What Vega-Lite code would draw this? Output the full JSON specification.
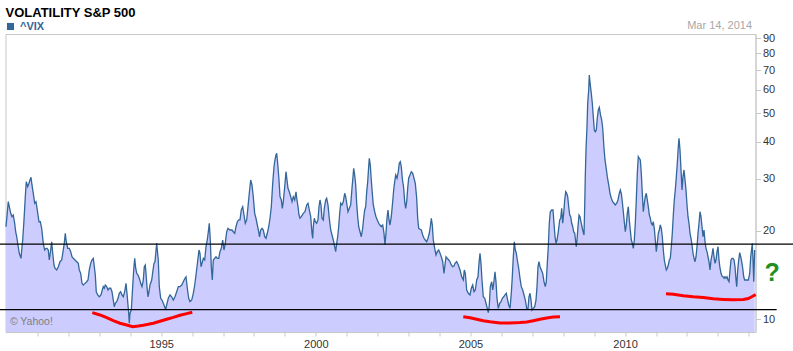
{
"$schema": "https://vega.github.io/schema/vega-lite/v6.json",
"width": 750, "height": 298,
"autosize": {"type": "none"},
"padding": {"left": 5.5, "top": 34, "right": 37.5, "bottom": 19},
"background": "white",
"config": {"font": "Liberation Sans", "view": {"stroke": "#c8c8c8", "strokeWidth": 1}},
"title": {"text": "VOLATILITY S&P 500", "anchor": "start", "frame": "group", "fontSize": 13, "fontWeight": "bold", "color": "#000000", "offset": 0},
"datasets": {
"vix": [
{"t":1989.984,"v":20.63},{"t":1990.058,"v":25.09},{"t":1990.091,"v":24.12},{"t":1990.136,"v":22.91},{"t":1990.178,"v":22.31},{"t":1990.220,"v":22.61},{"t":1990.265,"v":21.19},{"t":1990.297,"v":19.84},{"t":1990.330,"v":19.08},{"t":1990.362,"v":18.13},{"t":1990.414,"v":16.77},{"t":1990.469,"v":16.12},{"t":1990.501,"v":17.65},{"t":1990.524,"v":18.60},{"t":1990.566,"v":21.75},{"t":1990.608,"v":26.08},{"t":1990.640,"v":29.32},{"t":1990.685,"v":28.19},{"t":1990.727,"v":28.96},{"t":1990.760,"v":29.72},{"t":1990.792,"v":30.35},{"t":1990.824,"v":28.58},{"t":1990.866,"v":26.78},{"t":1990.912,"v":24.78},{"t":1990.954,"v":25.08},{"t":1990.996,"v":23.51},
{"t":1991.051,"v":21.45},{"t":1991.093,"v":21.45},{"t":1991.138,"v":20.38},{"t":1991.190,"v":18.13},{"t":1991.235,"v":17.20},{"t":1991.277,"v":17.43},{"t":1991.309,"v":17.43},{"t":1991.351,"v":17.20},{"t":1991.384,"v":15.91},{"t":1991.429,"v":17.20},{"t":1991.461,"v":18.35},{"t":1991.494,"v":16.77},{"t":1991.536,"v":15.30},{"t":1991.568,"v":14.92},{"t":1991.623,"v":14.72},{"t":1991.675,"v":15.10},{"t":1991.730,"v":15.70},{"t":1991.785,"v":15.91},{"t":1991.836,"v":17.20},{"t":1991.869,"v":18.13},{"t":1991.901,"v":19.60},{"t":1991.933,"v":18.35},{"t":1991.979,"v":17.43},
{"t":1992.030,"v":17.43},{"t":1992.076,"v":16.98},{"t":1992.118,"v":16.32},{"t":1992.160,"v":16.12},{"t":1992.215,"v":15.91},{"t":1992.270,"v":15.70},{"t":1992.321,"v":15.50},{"t":1992.354,"v":14.72},{"t":1992.399,"v":14.34},{"t":1992.441,"v":13.26},{"t":1992.483,"v":13.09},{"t":1992.538,"v":13.26},{"t":1992.593,"v":13.43},{"t":1992.635,"v":13.61},{"t":1992.677,"v":14.72},{"t":1992.722,"v":15.50},{"t":1992.764,"v":15.91},{"t":1992.806,"v":16.12},{"t":1992.839,"v":15.10},{"t":1992.871,"v":14.15},{"t":1992.903,"v":12.42},{"t":1992.949,"v":12.11},
{"t":1993.000,"v":11.94},{"t":1993.055,"v":12.11},{"t":1993.097,"v":12.59},{"t":1993.130,"v":12.92},{"t":1993.162,"v":12.76},{"t":1993.194,"v":13.09},{"t":1993.240,"v":12.92},{"t":1993.282,"v":12.59},{"t":1993.324,"v":12.76},{"t":1993.369,"v":12.76},{"t":1993.411,"v":12.42},{"t":1993.453,"v":11.64},{"t":1993.485,"v":11.05},{"t":1993.518,"v":11.35},{"t":1993.563,"v":11.49},{"t":1993.605,"v":11.80},{"t":1993.647,"v":12.27},{"t":1993.692,"v":12.42},{"t":1993.734,"v":12.11},{"t":1993.776,"v":11.94},{"t":1993.821,"v":12.42},{"t":1993.864,"v":13.26},{"t":1993.896,"v":12.27},{"t":1993.928,"v":11.20},{"t":1993.951,"v":10.50},{"t":1993.970,"v":9.71},{"t":1993.993,"v":10.50},
{"t":1994.035,"v":10.77},{"t":1994.080,"v":12.92},{"t":1994.113,"v":14.72},{"t":1994.145,"v":16.12},{"t":1994.177,"v":14.92},{"t":1994.210,"v":14.34},{"t":1994.252,"v":14.15},{"t":1994.294,"v":13.79},{"t":1994.339,"v":13.26},{"t":1994.381,"v":12.92},{"t":1994.423,"v":13.61},{"t":1994.455,"v":15.10},{"t":1994.488,"v":15.30},{"t":1994.510,"v":14.34},{"t":1994.543,"v":12.92},{"t":1994.575,"v":11.94},{"t":1994.607,"v":12.42},{"t":1994.640,"v":13.09},{"t":1994.695,"v":13.61},{"t":1994.737,"v":14.72},{"t":1994.769,"v":15.50},{"t":1994.801,"v":15.70},{"t":1994.856,"v":18.13},{"t":1994.908,"v":15.91},{"t":1994.940,"v":12.92},{"t":1994.985,"v":11.80},
{"t":1995.028,"v":11.64},{"t":1995.070,"v":11.35},{"t":1995.115,"v":11.05},{"t":1995.147,"v":10.77},{"t":1995.179,"v":11.20},{"t":1995.231,"v":11.80},{"t":1995.286,"v":12.11},{"t":1995.341,"v":11.94},{"t":1995.393,"v":11.64},{"t":1995.448,"v":11.94},{"t":1995.503,"v":12.42},{"t":1995.555,"v":12.92},{"t":1995.610,"v":12.92},{"t":1995.665,"v":13.09},{"t":1995.716,"v":13.43},{"t":1995.771,"v":13.79},{"t":1995.804,"v":13.96},{"t":1995.846,"v":12.76},{"t":1995.891,"v":11.80},{"t":1995.933,"v":11.49},{"t":1995.988,"v":11.64},
{"t":1996.040,"v":12.27},{"t":1996.085,"v":13.09},{"t":1996.127,"v":14.15},{"t":1996.159,"v":15.10},{"t":1996.192,"v":16.12},{"t":1996.224,"v":17.20},{"t":1996.256,"v":16.77},{"t":1996.289,"v":15.10},{"t":1996.321,"v":15.50},{"t":1996.363,"v":16.12},{"t":1996.408,"v":15.91},{"t":1996.450,"v":17.65},{"t":1996.492,"v":18.60},{"t":1996.525,"v":19.84},{"t":1996.557,"v":21.19},{"t":1996.589,"v":18.60},{"t":1996.622,"v":15.10},{"t":1996.654,"v":13.61},{"t":1996.686,"v":15.91},{"t":1996.731,"v":16.12},{"t":1996.774,"v":16.32},{"t":1996.816,"v":16.12},{"t":1996.861,"v":16.12},{"t":1996.903,"v":16.98},{"t":1996.945,"v":17.43},{"t":1996.990,"v":18.60},
{"t":1997.032,"v":17.20},{"t":1997.074,"v":18.13},{"t":1997.119,"v":19.84},{"t":1997.161,"v":20.38},{"t":1997.226,"v":20.11},{"t":1997.291,"v":20.11},{"t":1997.333,"v":19.84},{"t":1997.378,"v":19.60},{"t":1997.420,"v":20.63},{"t":1997.462,"v":21.45},{"t":1997.507,"v":21.75},{"t":1997.549,"v":21.75},{"t":1997.591,"v":23.51},{"t":1997.637,"v":24.12},{"t":1997.679,"v":22.61},{"t":1997.721,"v":21.19},{"t":1997.766,"v":21.75},{"t":1997.808,"v":24.12},{"t":1997.850,"v":26.78},{"t":1997.895,"v":29.72},{"t":1997.937,"v":28.58},{"t":1997.979,"v":26.08},
{"t":1998.024,"v":22.91},{"t":1998.066,"v":22.04},{"t":1998.109,"v":20.91},{"t":1998.154,"v":19.84},{"t":1998.180,"v":19.04},{"t":1998.219,"v":20.11},{"t":1998.261,"v":20.38},{"t":1998.303,"v":20.11},{"t":1998.348,"v":19.08},{"t":1998.390,"v":18.85},{"t":1998.432,"v":19.60},{"t":1998.478,"v":20.63},{"t":1998.520,"v":22.04},{"t":1998.562,"v":24.12},{"t":1998.607,"v":28.96},{"t":1998.649,"v":32.96},{"t":1998.681,"v":34.74},{"t":1998.713,"v":36.12},{"t":1998.736,"v":36.60},{"t":1998.768,"v":33.86},{"t":1998.810,"v":29.72},{"t":1998.843,"v":26.08},{"t":1998.885,"v":25.42},{"t":1998.917,"v":23.82},{"t":1998.949,"v":25.08},{"t":1998.995,"v":28.19},
{"t":1999.037,"v":31.70},{"t":1999.069,"v":29.72},{"t":1999.101,"v":27.85},{"t":1999.143,"v":27.11},{"t":1999.189,"v":26.08},{"t":1999.231,"v":25.08},{"t":1999.273,"v":26.08},{"t":1999.318,"v":25.42},{"t":1999.360,"v":27.11},{"t":1999.392,"v":25.42},{"t":1999.425,"v":24.12},{"t":1999.457,"v":22.61},{"t":1999.489,"v":22.04},{"t":1999.531,"v":22.31},{"t":1999.596,"v":22.91},{"t":1999.651,"v":23.19},{"t":1999.706,"v":24.45},{"t":1999.748,"v":24.78},{"t":1999.790,"v":23.51},{"t":1999.835,"v":22.31},{"t":1999.877,"v":19.60},{"t":1999.900,"v":18.85},{"t":1999.919,"v":20.63},{"t":1999.952,"v":22.04},{"t":1999.984,"v":21.45},
{"t":2000.029,"v":21.19},{"t":2000.071,"v":21.75},{"t":2000.103,"v":24.12},{"t":2000.136,"v":25.42},{"t":2000.168,"v":24.45},{"t":2000.200,"v":22.04},{"t":2000.242,"v":21.75},{"t":2000.275,"v":23.82},{"t":2000.320,"v":25.42},{"t":2000.352,"v":25.76},{"t":2000.394,"v":24.45},{"t":2000.436,"v":22.04},{"t":2000.482,"v":20.11},{"t":2000.524,"v":19.34},{"t":2000.566,"v":18.60},{"t":2000.611,"v":17.65},{"t":2000.643,"v":16.98},{"t":2000.676,"v":18.13},{"t":2000.708,"v":19.08},{"t":2000.740,"v":20.63},{"t":2000.773,"v":22.91},{"t":2000.805,"v":24.78},{"t":2000.847,"v":24.45},{"t":2000.889,"v":25.08},{"t":2000.934,"v":26.78},{"t":2000.966,"v":26.08},{"t":2000.999,"v":24.78},
{"t":2001.041,"v":23.19},{"t":2001.083,"v":23.82},{"t":2001.128,"v":24.45},{"t":2001.170,"v":27.85},{"t":2001.203,"v":30.49},{"t":2001.225,"v":32.56},{"t":2001.257,"v":30.90},{"t":2001.290,"v":28.58},{"t":2001.322,"v":24.78},{"t":2001.354,"v":22.31},{"t":2001.387,"v":20.63},{"t":2001.429,"v":19.84},{"t":2001.471,"v":19.08},{"t":2001.516,"v":20.38},{"t":2001.548,"v":22.04},{"t":2001.581,"v":23.51},{"t":2001.613,"v":24.12},{"t":2001.646,"v":27.11},{"t":2001.678,"v":29.32},{"t":2001.710,"v":32.96},{"t":2001.730,"v":35.20},{"t":2001.762,"v":33.41},{"t":2001.794,"v":29.72},{"t":2001.827,"v":26.78},{"t":2001.859,"v":24.45},{"t":2001.904,"v":23.19},{"t":2001.946,"v":22.31},{"t":2001.988,"v":21.75},
{"t":2002.033,"v":21.19},{"t":2002.075,"v":20.91},{"t":2002.117,"v":20.63},{"t":2002.163,"v":20.91},{"t":2002.205,"v":19.60},{"t":2002.237,"v":17.89},{"t":2002.270,"v":19.60},{"t":2002.302,"v":22.04},{"t":2002.334,"v":23.51},{"t":2002.367,"v":21.75},{"t":2002.399,"v":20.91},{"t":2002.441,"v":22.31},{"t":2002.486,"v":25.08},{"t":2002.518,"v":27.48},{"t":2002.551,"v":29.32},{"t":2002.583,"v":30.90},{"t":2002.625,"v":30.12},{"t":2002.667,"v":31.70},{"t":2002.700,"v":33.86},{"t":2002.732,"v":34.27},{"t":2002.764,"v":32.96},{"t":2002.797,"v":30.12},{"t":2002.842,"v":27.85},{"t":2002.874,"v":25.08},{"t":2002.906,"v":23.82},{"t":2002.939,"v":25.08},{"t":2002.971,"v":27.85},
{"t":2003.003,"v":30.12},{"t":2003.045,"v":30.90},{"t":2003.087,"v":31.70},{"t":2003.133,"v":31.31},{"t":2003.175,"v":30.12},{"t":2003.217,"v":28.96},{"t":2003.262,"v":25.76},{"t":2003.294,"v":22.04},{"t":2003.327,"v":20.38},{"t":2003.369,"v":20.22},{"t":2003.411,"v":20.11},{"t":2003.456,"v":19.34},{"t":2003.498,"v":18.85},{"t":2003.540,"v":18.60},{"t":2003.586,"v":18.35},{"t":2003.628,"v":18.85},{"t":2003.670,"v":19.60},{"t":2003.702,"v":20.63},{"t":2003.735,"v":22.04},{"t":2003.767,"v":20.91},{"t":2003.799,"v":18.60},{"t":2003.844,"v":17.43},{"t":2003.886,"v":16.55},{"t":2003.928,"v":16.98},{"t":2003.974,"v":17.20},
{"t":2004.016,"v":16.77},{"t":2004.058,"v":16.32},{"t":2004.103,"v":15.70},{"t":2004.145,"v":14.34},{"t":2004.177,"v":15.30},{"t":2004.210,"v":16.32},{"t":2004.252,"v":16.12},{"t":2004.297,"v":15.91},{"t":2004.339,"v":15.70},{"t":2004.381,"v":15.30},{"t":2004.426,"v":15.10},{"t":2004.468,"v":15.18},{"t":2004.500,"v":15.50},{"t":2004.555,"v":15.70},{"t":2004.607,"v":15.30},{"t":2004.662,"v":14.72},{"t":2004.717,"v":13.96},{"t":2004.769,"v":13.61},{"t":2004.801,"v":14.72},{"t":2004.834,"v":14.34},{"t":2004.879,"v":12.59},{"t":2004.931,"v":12.27},{"t":2004.986,"v":12.11},
{"t":2005.028,"v":12.76},{"t":2005.073,"v":13.09},{"t":2005.115,"v":12.42},{"t":2005.157,"v":12.59},{"t":2005.202,"v":13.61},{"t":2005.244,"v":13.96},{"t":2005.276,"v":15.50},{"t":2005.309,"v":16.77},{"t":2005.341,"v":15.50},{"t":2005.373,"v":13.61},{"t":2005.415,"v":11.94},{"t":2005.461,"v":11.80},{"t":2005.503,"v":11.35},{"t":2005.545,"v":10.91},{"t":2005.577,"v":10.55},{"t":2005.610,"v":11.20},{"t":2005.642,"v":12.92},{"t":2005.687,"v":13.43},{"t":2005.720,"v":12.59},{"t":2005.752,"v":13.26},{"t":2005.794,"v":14.52},{"t":2005.826,"v":13.43},{"t":2005.858,"v":11.80},{"t":2005.900,"v":10.91},{"t":2005.946,"v":11.35},{"t":2005.988,"v":11.49},
{"t":2006.030,"v":11.80},{"t":2006.075,"v":11.94},{"t":2006.117,"v":12.11},{"t":2006.159,"v":12.27},{"t":2006.192,"v":11.80},{"t":2006.237,"v":11.20},{"t":2006.279,"v":10.91},{"t":2006.321,"v":12.27},{"t":2006.353,"v":13.96},{"t":2006.386,"v":16.32},{"t":2006.418,"v":18.35},{"t":2006.451,"v":17.20},{"t":2006.483,"v":16.77},{"t":2006.515,"v":15.91},{"t":2006.560,"v":14.92},{"t":2006.602,"v":13.79},{"t":2006.644,"v":12.92},{"t":2006.690,"v":12.59},{"t":2006.732,"v":12.11},{"t":2006.774,"v":11.64},{"t":2006.819,"v":10.91},{"t":2006.861,"v":10.91},{"t":2006.893,"v":11.94},{"t":2006.925,"v":12.27},{"t":2006.958,"v":11.64},{"t":2006.990,"v":10.77},
{"t":2007.032,"v":10.91},{"t":2007.077,"v":11.05},{"t":2007.119,"v":11.64},{"t":2007.152,"v":12.92},{"t":2007.184,"v":15.10},{"t":2007.216,"v":15.70},{"t":2007.249,"v":15.10},{"t":2007.291,"v":14.72},{"t":2007.336,"v":14.34},{"t":2007.378,"v":13.43},{"t":2007.420,"v":12.92},{"t":2007.452,"v":13.43},{"t":2007.485,"v":15.50},{"t":2007.517,"v":17.65},{"t":2007.549,"v":21.19},{"t":2007.582,"v":23.19},{"t":2007.627,"v":23.51},{"t":2007.669,"v":23.51},{"t":2007.701,"v":21.19},{"t":2007.734,"v":19.08},{"t":2007.766,"v":18.13},{"t":2007.798,"v":18.60},{"t":2007.840,"v":19.84},{"t":2007.886,"v":21.75},{"t":2007.918,"v":22.04},{"t":2007.950,"v":23.82},{"t":2007.983,"v":21.19},
{"t":2008.015,"v":22.91},{"t":2008.047,"v":25.42},{"t":2008.080,"v":27.11},{"t":2008.112,"v":26.78},{"t":2008.144,"v":26.08},{"t":2008.177,"v":24.12},{"t":2008.209,"v":22.61},{"t":2008.241,"v":22.31},{"t":2008.274,"v":21.19},{"t":2008.306,"v":20.63},{"t":2008.338,"v":19.84},{"t":2008.371,"v":19.60},{"t":2008.403,"v":18.35},{"t":2008.422,"v":17.65},{"t":2008.445,"v":18.60},{"t":2008.477,"v":20.63},{"t":2008.510,"v":22.61},{"t":2008.542,"v":22.31},{"t":2008.584,"v":21.19},{"t":2008.629,"v":20.11},{"t":2008.671,"v":19.34},{"t":2008.694,"v":24.12},{"t":2008.713,"v":30.49},{"t":2008.736,"v":37.56},{"t":2008.768,"v":45.05},{"t":2008.791,"v":54.08},{"t":2008.823,"v":60.00},{"t":2008.842,"v":67.45},{"t":2008.875,"v":62.39},{"t":2008.907,"v":58.47},{"t":2008.940,"v":54.08},{"t":2008.972,"v":48.70},
{"t":2009.004,"v":43.91},{"t":2009.037,"v":43.31},{"t":2009.069,"v":43.91},{"t":2009.101,"v":48.10},{"t":2009.134,"v":51.33},{"t":2009.166,"v":52.34},{"t":2009.205,"v":49.36},{"t":2009.243,"v":47.47},{"t":2009.276,"v":44.60},{"t":2009.318,"v":38.06},{"t":2009.350,"v":34.74},{"t":2009.382,"v":32.96},{"t":2009.424,"v":30.49},{"t":2009.470,"v":28.58},{"t":2009.512,"v":26.78},{"t":2009.554,"v":25.76},{"t":2009.599,"v":25.08},{"t":2009.641,"v":24.78},{"t":2009.683,"v":24.45},{"t":2009.728,"v":24.78},{"t":2009.770,"v":25.42},{"t":2009.812,"v":26.78},{"t":2009.845,"v":27.48},{"t":2009.877,"v":26.78},{"t":2009.910,"v":25.08},{"t":2009.942,"v":23.19},{"t":2009.974,"v":21.45},
{"t":2010.007,"v":19.84},{"t":2010.039,"v":20.91},{"t":2010.071,"v":22.91},{"t":2010.104,"v":24.12},{"t":2010.136,"v":21.75},{"t":2010.168,"v":20.11},{"t":2010.201,"v":18.60},{"t":2010.233,"v":18.13},{"t":2010.265,"v":17.43},{"t":2010.298,"v":18.60},{"t":2010.330,"v":21.19},{"t":2010.362,"v":25.42},{"t":2010.395,"v":31.31},{"t":2010.427,"v":35.64},{"t":2010.459,"v":35.20},{"t":2010.492,"v":34.74},{"t":2010.524,"v":31.31},{"t":2010.556,"v":26.78},{"t":2010.589,"v":23.19},{"t":2010.621,"v":24.78},{"t":2010.653,"v":26.08},{"t":2010.686,"v":26.78},{"t":2010.718,"v":25.42},{"t":2010.750,"v":24.12},{"t":2010.783,"v":22.61},{"t":2010.815,"v":22.04},{"t":2010.847,"v":21.19},{"t":2010.880,"v":20.91},{"t":2010.912,"v":21.45},{"t":2010.944,"v":20.38},{"t":2010.977,"v":18.60},
{"t":2011.009,"v":16.98},{"t":2011.041,"v":18.13},{"t":2011.074,"v":19.60},{"t":2011.106,"v":20.11},{"t":2011.138,"v":20.91},{"t":2011.171,"v":20.38},{"t":2011.203,"v":19.08},{"t":2011.235,"v":17.20},{"t":2011.268,"v":15.91},{"t":2011.300,"v":15.30},{"t":2011.332,"v":14.72},{"t":2011.365,"v":14.92},{"t":2011.397,"v":15.30},{"t":2011.429,"v":15.91},{"t":2011.462,"v":16.12},{"t":2011.494,"v":17.65},{"t":2011.526,"v":19.60},{"t":2011.559,"v":22.61},{"t":2011.591,"v":25.42},{"t":2011.623,"v":27.48},{"t":2011.656,"v":30.49},{"t":2011.688,"v":33.86},{"t":2011.720,"v":38.53},{"t":2011.743,"v":41.15},{"t":2011.775,"v":37.56},{"t":2011.808,"v":32.13},{"t":2011.840,"v":27.48},{"t":2011.872,"v":30.49},{"t":2011.905,"v":32.13},{"t":2011.937,"v":29.72},{"t":2011.969,"v":27.48},
{"t":2012.002,"v":24.45},{"t":2012.034,"v":22.31},{"t":2012.066,"v":21.19},{"t":2012.099,"v":19.60},{"t":2012.131,"v":18.85},{"t":2012.163,"v":17.89},{"t":2012.196,"v":16.77},{"t":2012.228,"v":16.12},{"t":2012.260,"v":15.70},{"t":2012.293,"v":16.32},{"t":2012.325,"v":17.65},{"t":2012.357,"v":19.60},{"t":2012.390,"v":21.19},{"t":2012.422,"v":23.19},{"t":2012.454,"v":22.31},{"t":2012.487,"v":20.63},{"t":2012.519,"v":19.08},{"t":2012.551,"v":20.11},{"t":2012.584,"v":18.35},{"t":2012.616,"v":17.43},{"t":2012.648,"v":16.98},{"t":2012.681,"v":16.32},{"t":2012.713,"v":15.70},{"t":2012.745,"v":14.72},{"t":2012.778,"v":15.91},{"t":2012.810,"v":16.55},{"t":2012.842,"v":17.43},{"t":2012.875,"v":16.32},{"t":2012.907,"v":15.50},{"t":2012.939,"v":15.91},{"t":2012.972,"v":16.98},
{"t":2013.004,"v":17.65},{"t":2013.036,"v":15.91},{"t":2013.069,"v":14.92},{"t":2013.101,"v":14.34},{"t":2013.133,"v":14.04},{"t":2013.166,"v":13.96},{"t":2013.198,"v":13.79},{"t":2013.230,"v":13.96},{"t":2013.263,"v":13.79},{"t":2013.295,"v":13.96},{"t":2013.327,"v":13.61},{"t":2013.360,"v":13.43},{"t":2013.392,"v":14.72},{"t":2013.424,"v":15.91},{"t":2013.457,"v":16.12},{"t":2013.489,"v":16.12},{"t":2013.521,"v":15.91},{"t":2013.554,"v":15.10},{"t":2013.586,"v":13.61},{"t":2013.609,"v":12.92},{"t":2013.641,"v":14.72},{"t":2013.673,"v":15.91},{"t":2013.706,"v":16.85},{"t":2013.738,"v":16.32},{"t":2013.770,"v":15.70},{"t":2013.803,"v":14.92},{"t":2013.835,"v":13.96},{"t":2013.867,"v":13.61},{"t":2013.932,"v":13.61},{"t":2013.984,"v":13.61},
{"t":2014.029,"v":14.34},{"t":2014.062,"v":16.32},{"t":2014.094,"v":17.43},{"t":2014.113,"v":18.13},{"t":2014.136,"v":15.91},{"t":2014.159,"v":13.43},{"t":2014.190,"v":17.20}
],
"red": [
{"g":1,"t":1992.774,"v":10.55},{"g":1,"t":1993.023,"v":10.36},{"g":1,"t":1993.240,"v":10.14},{"g":1,"t":1993.453,"v":9.91},{"g":1,"t":1993.670,"v":9.71},{"g":1,"t":1993.886,"v":9.58},{"g":1,"t":1994.080,"v":9.45},{"g":1,"t":1994.261,"v":9.50},{"g":1,"t":1994.423,"v":9.56},{"g":1,"t":1994.585,"v":9.63},{"g":1,"t":1994.746,"v":9.71},{"g":1,"t":1994.963,"v":9.86},{"g":1,"t":1995.179,"v":10.02},{"g":1,"t":1995.393,"v":10.17},{"g":1,"t":1995.609,"v":10.34},{"g":1,"t":1995.826,"v":10.47},{"g":1,"t":1996.007,"v":10.58},
{"g":2,"t":2004.769,"v":10.22},{"g":2,"t":2004.986,"v":10.14},{"g":2,"t":2005.202,"v":10.02},{"g":2,"t":2005.415,"v":9.91},{"g":2,"t":2005.632,"v":9.83},{"g":2,"t":2005.956,"v":9.73},{"g":2,"t":2006.279,"v":9.73},{"g":2,"t":2006.602,"v":9.76},{"g":2,"t":2006.819,"v":9.81},{"g":2,"t":2007.032,"v":9.91},{"g":2,"t":2007.249,"v":10.02},{"g":2,"t":2007.465,"v":10.12},{"g":2,"t":2007.679,"v":10.20},{"g":2,"t":2007.895,"v":10.22},
{"g":3,"t":2011.322,"v":12.23},{"g":3,"t":2011.558,"v":12.18},{"g":3,"t":2011.881,"v":12.04},{"g":3,"t":2012.205,"v":11.94},{"g":3,"t":2012.529,"v":11.87},{"g":3,"t":2012.852,"v":11.76},{"g":3,"t":2013.175,"v":11.70},{"g":3,"t":2013.499,"v":11.66},{"g":3,"t":2013.822,"v":11.70},{"g":3,"t":2013.984,"v":11.78},{"g":3,"t":2014.093,"v":11.94},{"g":3,"t":2014.223,"v":12.14}
],
"levels": [
{"a":1989.79,"b":2015.43,"v":18.0},
{"a":1989.79,"b":2014.90,"v":10.8}
]
},
"encoding": {
"x": {"field": "t", "type": "quantitative",
 "scale": {"domain": [1989.968, 2014.216], "nice": false, "zero": false},
 "axis": {"title": null, "grid": false, "values": [1991,1992,1993,1994,1995,1996,1997,1998,1999,2000,2001,2002,2003,2004,2005,2006,2007,2008,2009,2010,2011,2012,2013,2014],
  "format": "d", "labelExpr": "datum.value % 5 === 0 ? datum.label : ''",
  "tickSize": 4, "tickColor": "#c8c8c8", "domainColor": "#c8c8c8", "labelColor": "#333333", "labelFontSize": 11, "labelPadding": 2, "labelFlush": false}},
"y": {"field": "v", "type": "quantitative",
 "scale": {"type": "log", "domain": [9.07, 92.87], "nice": false, "zero": false},
 "axis": {"title": null, "grid": false, "orient": "right", "values": [10,20,30,40,50,60,70,80,90], "format": "d",
  "tickSize": 5, "tickColor": "#c8c8c8", "domainColor": "#c8c8c8", "labelColor": "#333333", "labelFontSize": 11, "labelPadding": 2}}
},
"layer": [
{"data": {"name": "vix"}, "mark": {"type": "area", "color": "#ccccff", "opacity": 1},
 "encoding": {"y2": {"datum": 9.07}}},
{"data": {"name": "vix"}, "mark": {"type": "line", "strokeWidth": 1.3},
 "encoding": {"color": {"datum": "^VIX", "type": "nominal", "scale": {"range": ["#336699"]},
  "legend": {"title": null, "orient": "none", "legendX": -0.5, "legendY": -13, "symbolType": "square", "symbolSize": 50, "symbolFillColor": "#336699", "symbolStrokeWidth": 0, "labelColor": "#336699", "labelFontSize": 11, "labelFontWeight": "bold", "labelOffset": 4,
   "encode": {"symbols": {"update": {"fill": {"value": "#336699"}, "stroke": {"value": "#336699"}, "shape": {"value": "square"}}}}}}}},
{"data": {"name": "levels"}, "mark": {"type": "rule", "color": "#000000", "strokeWidth": 1.3, "clip": false},
 "encoding": {"x": {"field": "a", "type": "quantitative"}, "x2": {"field": "b"}, "y": {"field": "v", "type": "quantitative"}}},
{"data": {"name": "red"}, "mark": {"type": "line", "color": "#ff0000", "strokeWidth": 3},
 "encoding": {"detail": {"field": "g", "type": "nominal"}}},
{"data": {"values": [{"t": 1990.11, "v": 9.81, "label": "© Yahoo!"}]}, "mark": {"type": "text", "align": "left", "baseline": "middle", "fontSize": 10.5, "color": "#808080"},
 "encoding": {"text": {"field": "label"}}},
{"data": {"values": [{"t": 2014.75, "v": 14.4, "label": "?"}]}, "mark": {"type": "text", "align": "center", "baseline": "middle", "fontSize": 25, "fontWeight": "bold", "color": "#1f8f1f", "clip": false},
 "encoding": {"text": {"field": "label"}}},
{"data": {"values": [{"t": 2014.103, "v": 98.8, "label": "Mar 14, 2014"}]}, "mark": {"type": "text", "align": "right", "baseline": "middle", "fontSize": 11, "color": "#a8a8a8", "clip": false},
 "encoding": {"text": {"field": "label"}}}
]
}
